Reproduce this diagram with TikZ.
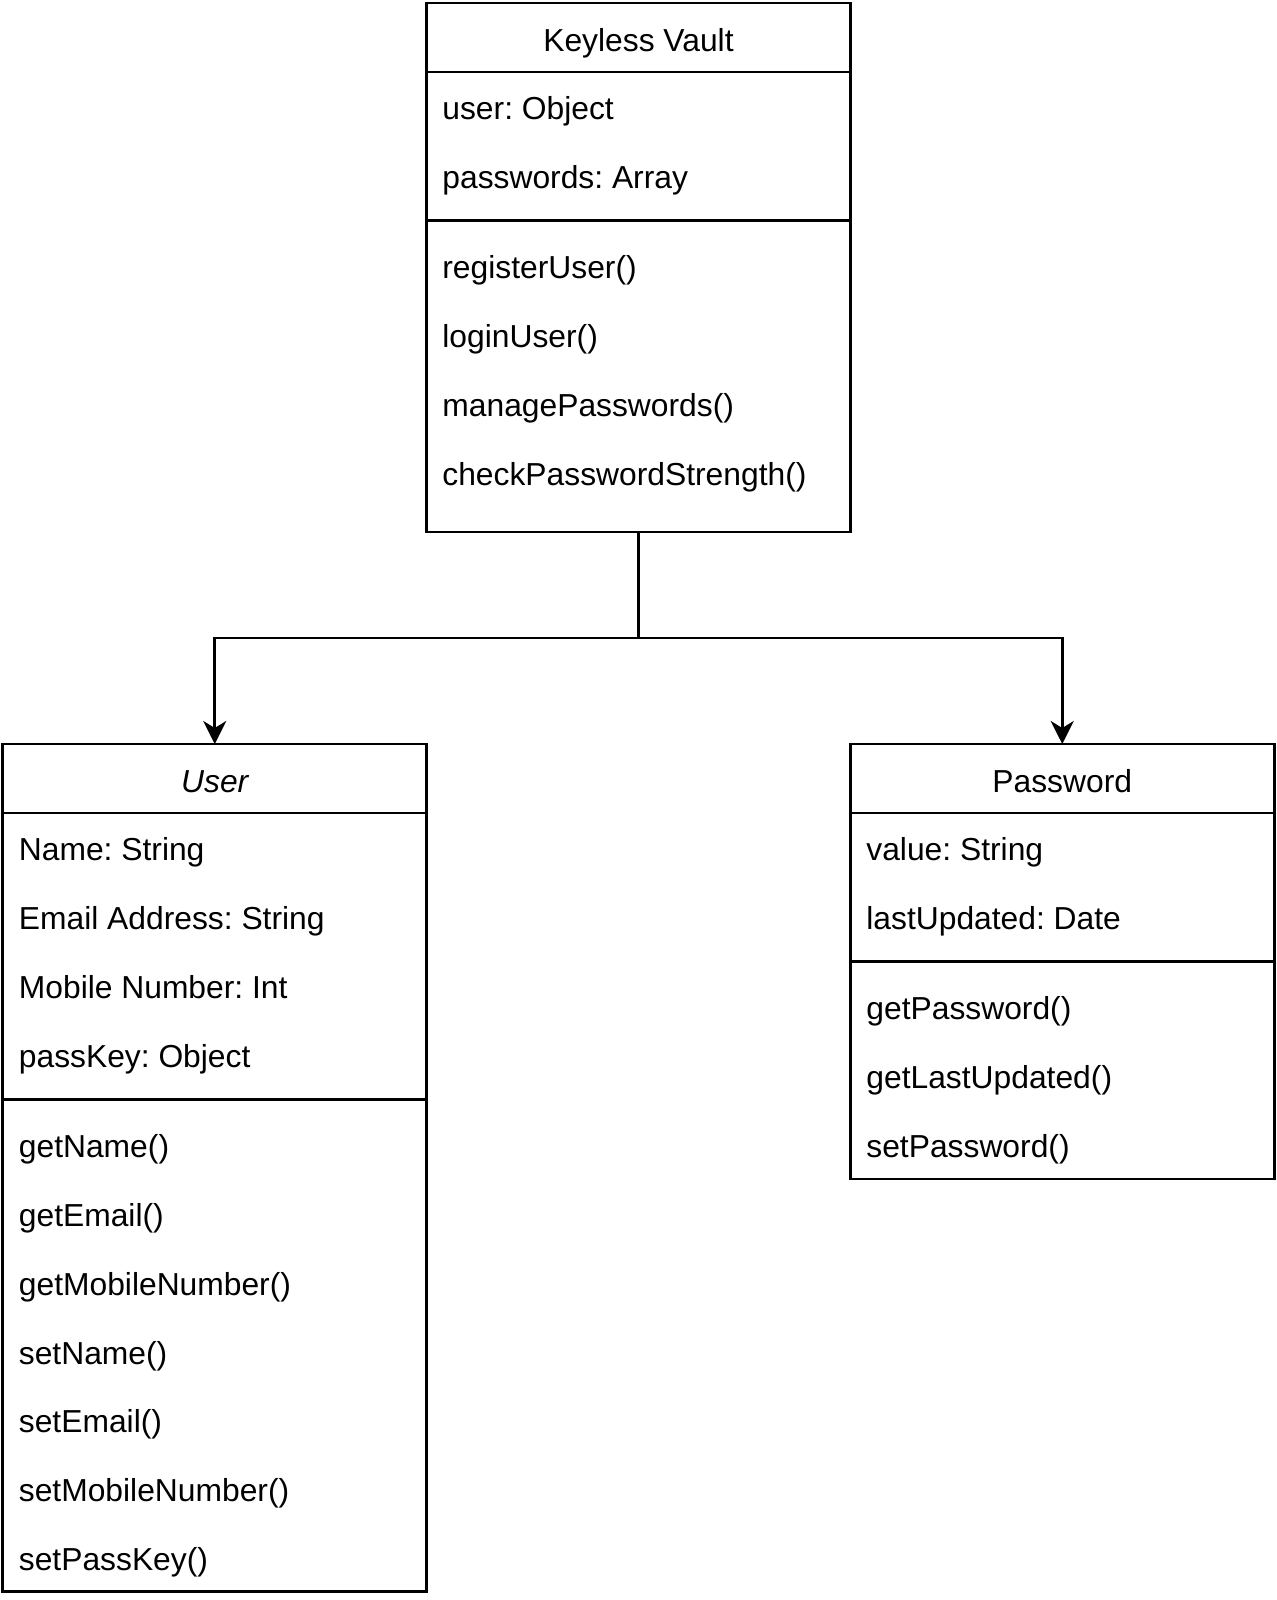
\documentclass[tikz,border=0pt]{standalone}
\usepackage{fontspec}
\setmainfont{Liberation Sans}
\usetikzlibrary{arrows.meta}
\frenchspacing
\begin{document}
\begin{tikzpicture}[x=0.5pt,y=-0.5pt,
 lw/.style={line width=1.35pt},
 box/.style={draw, lw, rectangle, inner sep=0pt, outer sep=0pt, minimum width=212pt},
 txt/.style={font=\fontsize{15.9}{18}\selectfont, inner sep=0pt, anchor=base west},
 head/.style={font=\fontsize{15.9}{18}\selectfont, inner sep=0pt, anchor=base},
 conn/.style={lw, -{Stealth[length=11.5pt,width=11.5pt,inset=3.5pt]}},
 sep/.style={lw}]
\useasboundingbox (0,0) rectangle (1276,1600);

% boxes
\node[box, minimum height=264.5pt] (vault) at (638.5,267.5) {};
\node[box, minimum height=423.75pt] (user) at (214.75,1167.75) {};
\node[box, minimum height=217.5pt] (pw) at (1062.25,961.5) {};

% separators
\draw[sep] (vault.west |- 0,71.9) -- (vault.east |- 0,71.9);
\draw[sep] (vault.west |- 0,220.4) -- (vault.east |- 0,220.4);
\draw[sep] (user.west |- 0,813) -- (user.east |- 0,813);
\draw[sep] (user.west |- 0,1099.2) -- (user.east |- 0,1099.2);
\draw[sep] (pw.west |- 0,813) -- (pw.east |- 0,813);
\draw[sep] (pw.west |- 0,961.4) -- (pw.east |- 0,961.4);

% Keyless Vault
\node[head] (vh) at (638.5,51.5) {Keyless Vault};
\node[txt] (va1) at (442,119.4) {user: Object};
\node[txt] (va2) at (442,188.3) {passwords: Array};
\node[txt] (vm1) at (442,278.5) {registerUser()};
\node[txt] (vm2) at (442,347.4) {loginUser()};
\node[txt] (vm3) at (442,416.3) {managePasswords()};
\node[txt] (vm4) at (442,485.2) {checkPasswordStrength()};

% User
\node[head] (uh) at (214.75,792.5) {\itshape User};
\node[txt] (ua1) at (18.5,860.5) {Name: String};
\node[txt] (ua2) at (18.5,929.4) {Email Address: String};
\node[txt] (ua3) at (18.5,998.3) {Mobile Number: Int};
\node[txt] (ua4) at (18.5,1067.2) {passKey: Object};
\node[txt] (um1) at (18.5,1157.3) {getName()};
\node[txt] (um2) at (18.5,1226.2) {getEmail()};
\node[txt] (um3) at (18.5,1295.1) {getMobileNumber()};
\node[txt] (um4) at (18.5,1364) {setName()};
\node[txt] (um5) at (18.5,1432.9) {setEmail()};
\node[txt] (um6) at (18.5,1501.8) {setMobileNumber()};
\node[txt] (um7) at (18.5,1570.7) {setPassKey()};

% Password
\node[head] (ph) at (1062.25,792.5) {Password};
\node[txt] (pa1) at (866,860.5) {value: String};
\node[txt] (pa2) at (866,929.4) {lastUpdated: Date};
\node[txt] (pm1) at (866,1019.5) {getPassword()};
\node[txt] (pm2) at (866,1088.4) {getLastUpdated()};
\node[txt] (pm3) at (866,1157.3) {setPassword()};

% connectors
\coordinate (j) at (638.5,638);
\draw[lw] (vault.south) -- (j);
\draw[conn] (j) -| (user.north);
\draw[conn] (j) -| (pw.north);
\end{tikzpicture}
\end{document}
